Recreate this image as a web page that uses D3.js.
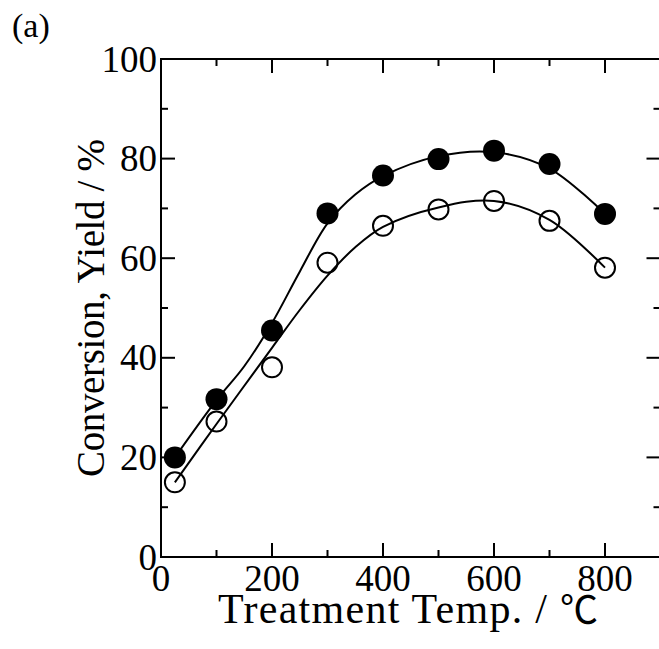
<!DOCTYPE html>
<html>
<head>
<meta charset="utf-8">
<script src="https://cdn.jsdelivr.net/npm/d3@7"></script>
<style>
  html, body { margin: 0; padding: 0; background: #fff; }
  svg { display: block; }
  text { font-family: "Liberation Serif", "Times New Roman", "Noto Sans CJK JP", serif; fill: #000; }
</style>
</head>
<body>
<svg id="chart" width="659" height="649"></svg>
<script>
// ---- data ----
const temps = [25, 100, 200, 300, 400, 500, 600, 700, 800];
const conversion = [20, 31.7, 45.5, 69.0, 76.6, 79.9, 81.6, 78.9, 68.9];   // filled circles
const yieldVals  = [15, 27.2, 38.1, 59.1, 66.5, 69.8, 71.5, 67.5, 58.1];   // open circles

// fitted curve
const convCurveX = [25, 100, 150, 200, 250, 300, 350, 400, 500, 600, 700, 800];
const convCurveY = [20, 31.5, 38.3, 47.0, 57.3, 67.0, 72.8, 76.5, 80.5, 81.3, 78.0, 68.9];
const yieldCurveX = [25, 100, 200, 250, 300, 350, 400, 500, 600, 700, 800];
const yieldCurveY = [15, 26.7, 42.0, 49.6, 56.5, 62.2, 66.3, 70.2, 71.5, 67.7, 58.1];

const xMajorTicks = [0, 200, 400, 600, 800];
const xMinorTicks = [100, 300, 500, 700, 900];
const yMajorTicks = [0, 20, 40, 60, 80, 100];
const yMinorTicks = [10, 30, 50, 70, 90];

const panelLabel = "(a)";
const xTitle = "Treatment Temp. / ";
const xTitleUnit = "\u2103";
const yTitle = "Conversion, Yield / %";

// ---- layout ----
const svg = d3.select("#chart");
const L = 161, R = 660.5, T = 59, B = 557;
const x = d3.scaleLinear().domain([0, 900]).range([L, R]);
const y = d3.scaleLinear().domain([0, 100]).range([B, T]);
const fontSize = 37;

// curves
const line = d3.line().x(d => x(d[0])).y(d => y(d[1])).curve(d3.curveCatmullRom.alpha(0.5));
svg.append("path")
  .datum(convCurveX.map((v, i) => [v, convCurveY[i]]))
  .attr("d", line).attr("fill", "none").attr("stroke", "#000").attr("stroke-width", 2);
svg.append("path")
  .datum(yieldCurveX.map((v, i) => [v, yieldCurveY[i]]))
  .attr("d", line).attr("fill", "none").attr("stroke", "#000").attr("stroke-width", 2);

// markers
svg.append("g").selectAll("circle")
  .data(temps.map((t, i) => [t, yieldVals[i]]))
  .join("circle")
  .attr("cx", d => x(d[0])).attr("cy", d => y(d[1])).attr("r", 10)
  .attr("fill", "none").attr("stroke", "#000").attr("stroke-width", 2);
svg.append("g").selectAll("circle")
  .data(temps.map((t, i) => [t, conversion[i]]))
  .join("circle")
  .attr("cx", d => x(d[0])).attr("cy", d => y(d[1])).attr("r", 11)
  .attr("fill", "#000");

// axes frame
const axisW = 2;
svg.append("rect").attr("x", L).attr("y", T).attr("width", R - L).attr("height", B - T)
  .attr("fill", "none").attr("stroke", "#000").attr("stroke-width", axisW);

// ticks
const g = svg.append("g").attr("stroke", "#000").attr("stroke-width", axisW);
const majLen = 14, minLen = 7;
xMajorTicks.forEach(v => {
  g.append("line").attr("x1", x(v)).attr("x2", x(v)).attr("y1", B).attr("y2", B - majLen);
  g.append("line").attr("x1", x(v)).attr("x2", x(v)).attr("y1", T).attr("y2", T + majLen);
});
xMinorTicks.forEach(v => {
  g.append("line").attr("x1", x(v)).attr("x2", x(v)).attr("y1", B).attr("y2", B - minLen);
  g.append("line").attr("x1", x(v)).attr("x2", x(v)).attr("y1", T).attr("y2", T + minLen);
});
yMajorTicks.forEach(v => {
  g.append("line").attr("x1", L).attr("x2", L + majLen).attr("y1", y(v)).attr("y2", y(v));
  g.append("line").attr("x1", R).attr("x2", R - majLen).attr("y1", y(v)).attr("y2", y(v));
});
yMinorTicks.forEach(v => {
  g.append("line").attr("x1", L).attr("x2", L + minLen).attr("y1", y(v)).attr("y2", y(v));
  g.append("line").attr("x1", R).attr("x2", R - minLen).attr("y1", y(v)).attr("y2", y(v));
});

// tick labels
svg.append("g").selectAll("text").data(xMajorTicks).join("text")
  .attr("x", d => x(d)).attr("y", 591).attr("text-anchor", "middle")
  .attr("font-size", fontSize).text(d => d);
svg.append("g").selectAll("text").data(yMajorTicks).join("text")
  .attr("x", 157).attr("y", d => y(d) + 12.5).attr("text-anchor", "end")
  .attr("font-size", fontSize).text(d => d);

// titles
const xt = svg.append("text").attr("x", 218).attr("y", 623)
  .attr("font-size", 42).attr("textLength", 380).attr("lengthAdjust", "spacing");
xt.append("tspan").text(xTitle);
xt.append("tspan").style("font-family", "'Noto Sans CJK JP', sans-serif").attr("font-size", 38).text(xTitleUnit);
svg.append("text").attr("transform", `translate(104,${(T + B) / 2}) rotate(-90)`)
  .attr("text-anchor", "middle").attr("font-size", 39)
  .attr("textLength", 338).attr("lengthAdjust", "spacing").text(yTitle);
svg.append("text").attr("x", 12).attr("y", 37).attr("font-size", 34).text(panelLabel);
</script>
</body>
</html>
